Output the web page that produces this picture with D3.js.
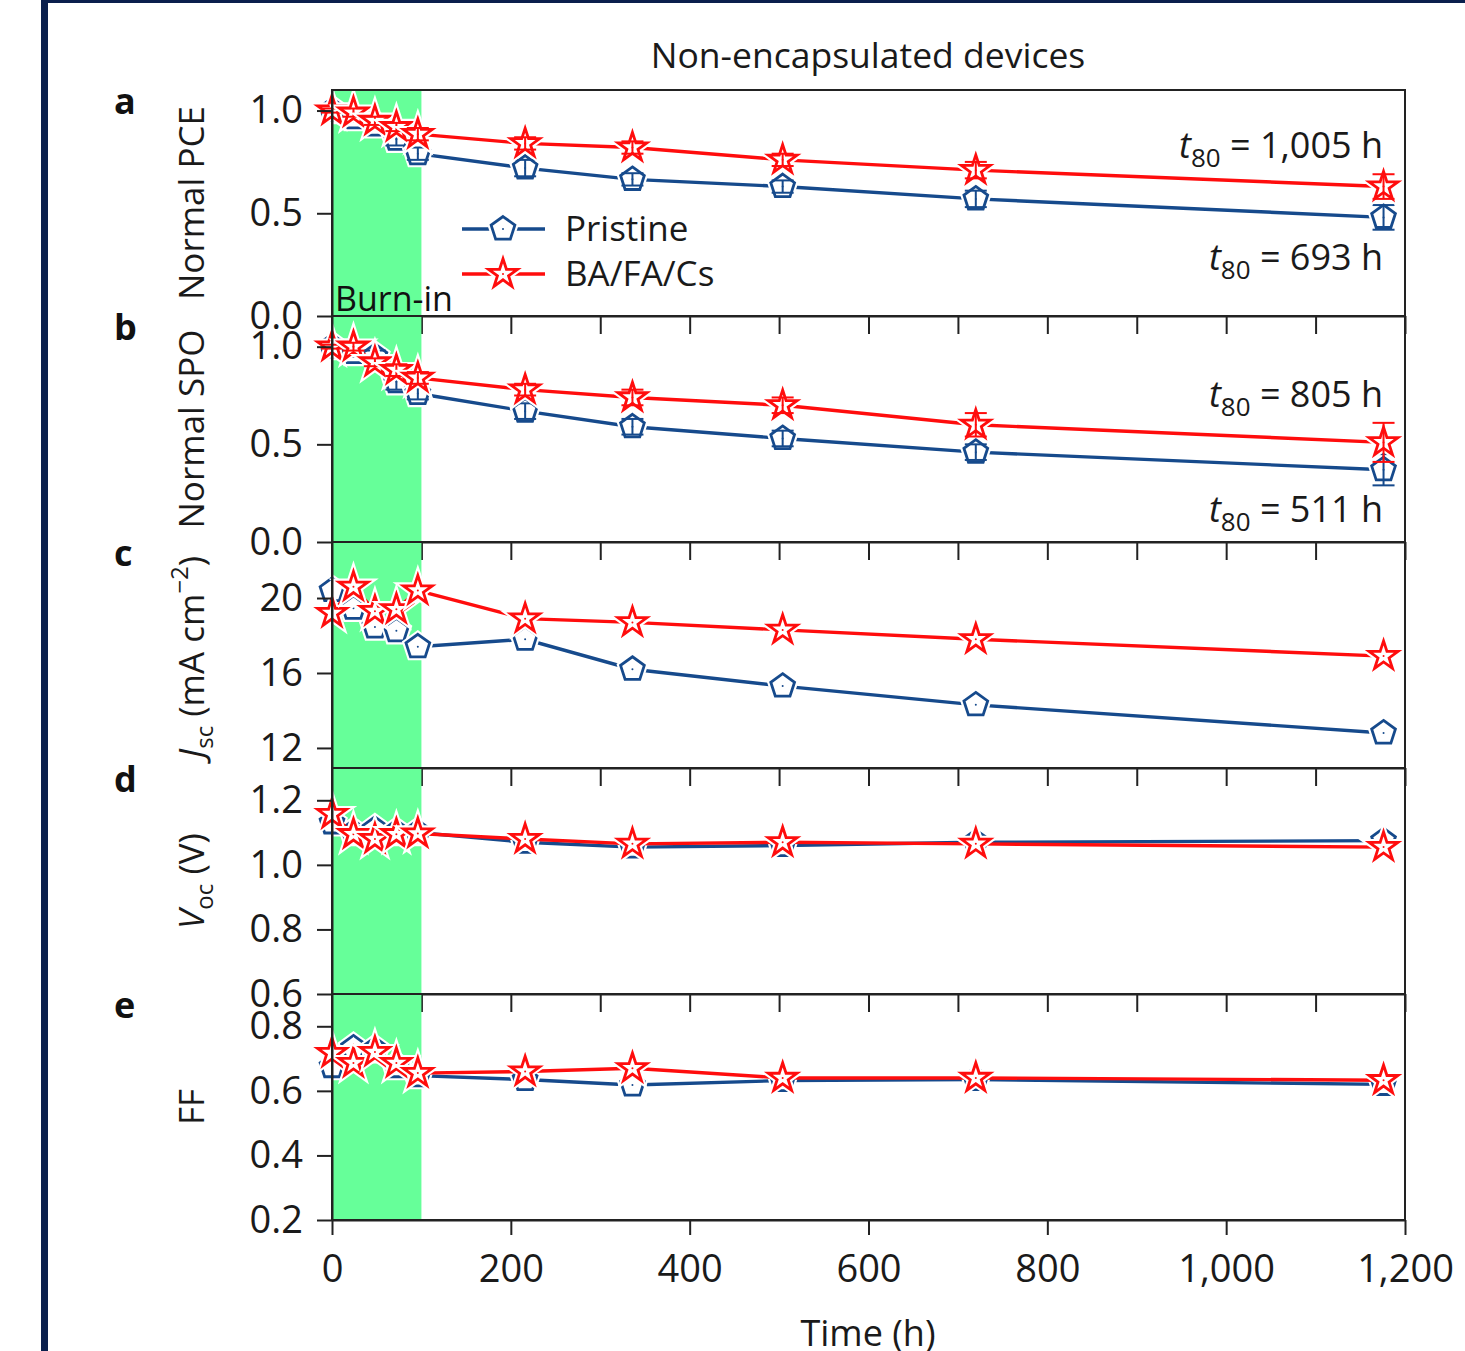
<!DOCTYPE html>
<html>
<head>
<meta charset="utf-8">
<script src="https://cdn.jsdelivr.net/npm/d3@7"></script>
<style>
  body { margin: 0; background: #fff; }
  svg { display: block; font-family: "Open Sans", "Noto Sans", sans-serif; }
  .axis path, .axis line { stroke: #222; stroke-width: 2; }
  .axis text { font-size: 38px; fill: #1a1a1a; font-family: "Open Sans", sans-serif; }
</style>
</head>
<body>
<svg id="chart"></svg>
<script>
// time points (h)
var hours = [0, 24, 48, 72, 96, 216, 336, 504, 720, 1176];

// a: normalized PCE
var pcePristine = [1.0, 0.965, 0.93, 0.86, 0.79, 0.72, 0.665, 0.63, 0.57, 0.48];
var pceBA       = [1.0, 0.99, 0.95, 0.92, 0.885, 0.84, 0.82, 0.76, 0.71, 0.63];
var pcePristineErr = [0.01, 0.02, 0.02, 0.03, 0.03, 0.04, 0.03, 0.03, 0.04, 0.06];
var pceBAErr       = [0.01, 0.02, 0.02, 0.02, 0.03, 0.03, 0.03, 0.03, 0.04, 0.06];

// b: normalized SPO
var spoPristine = [1.0, 0.97, 0.95, 0.82, 0.76, 0.67, 0.59, 0.53, 0.46, 0.37];
var spoBA       = [1.0, 1.0, 0.92, 0.88, 0.84, 0.78, 0.74, 0.70, 0.60, 0.51];
var spoPristineErr = [0.01, 0.02, 0.03, 0.04, 0.03, 0.04, 0.04, 0.04, 0.04, 0.08];
var spoBAErr       = [0.01, 0.02, 0.02, 0.03, 0.03, 0.03, 0.04, 0.04, 0.06, 0.10];

// c: Jsc (mA cm-2)
var jscPristine = [20.4, 19.45, 18.45, 18.25, 17.4, 17.8, 16.2, 15.3, 14.3, 12.8];
var jscBA       = [19.2, 20.6, 19.3, 19.4, 20.4, 18.9, 18.7, 18.3, 17.8, 16.9];

// d: Voc (V)
var vocPristine = [1.13, 1.10, 1.11, 1.10, 1.10, 1.07, 1.055, 1.06, 1.07, 1.075];
var vocBA       = [1.157, 1.095, 1.08, 1.095, 1.097, 1.08, 1.065, 1.07, 1.065, 1.055];

// e: FF
var ffPristine = [0.675, 0.733, 0.727, 0.675, 0.647, 0.635, 0.618, 0.632, 0.635, 0.62];
var ffBA       = [0.717, 0.686, 0.72, 0.686, 0.655, 0.66, 0.67, 0.64, 0.64, 0.633];

var seriesNames = ["Pristine", "BA/FA/Cs"];
var xTicksMajor = [0, 200, 400, 600, 800, 1000, 1200];
var xTicksMinor = [0, 100, 200, 300, 400, 500, 600, 700, 800, 900, 1000, 1100, 1200];
var burnIn = [0, 100];

var colBlue = "#164a8c";
var colRed = "#ff0d0d";
var colGreen = "#66ff99";

var W = 1465, H = 1351;
var svg = d3.select("#chart").attr("width", W).attr("height", H);

// frame band (navy)
svg.append("rect").attr("x", 41).attr("y", 0).attr("width", 7).attr("height", H).attr("fill", "#0a1f4d");
svg.append("rect").attr("x", 41).attr("y", 0).attr("width", W - 41).attr("height", 3).attr("fill", "#0a1f4d");

var left = 332, right = 1405;
var panelH = 226;
var tops = [90, 316, 542, 768, 994];

var x = d3.scaleLinear().domain([0, 1200]).range([left, right]);

var panels = [
  { letter: "a", domain: [0, 1.1], ticks: [0, 0.5, 1.0], fmt: ".1f", p: pcePristine, b: pceBA, pe: pcePristineErr, be: pceBAErr },
  { letter: "b", domain: [0, 1.157], ticks: [0, 0.5, 1.0], fmt: ".1f", p: spoPristine, b: spoBA, pe: spoPristineErr, be: spoBAErr },
  { letter: "c", domain: [10.93, 22.99], ticks: [12, 16, 20], fmt: "d", p: jscPristine, b: jscBA },
  { letter: "d", domain: [0.6, 1.3], ticks: [0.6, 0.8, 1.0, 1.2], fmt: ".1f", p: vocPristine, b: vocBA },
  { letter: "e", domain: [0.2, 0.9], ticks: [0.2, 0.4, 0.6, 0.8], fmt: ".1f", p: ffPristine, b: ffBA }
];

// pentagon symbol (vertex up)
var pentagon = {
  draw: function (ctx, size) {
    var r = Math.sqrt(size);
    for (var i = 0; i < 5; i++) {
      var a = -Math.PI / 2 + i * 2 * Math.PI / 5;
      if (i === 0) ctx.moveTo(r * Math.cos(a), r * Math.sin(a));
      else ctx.lineTo(r * Math.cos(a), r * Math.sin(a));
    }
    ctx.closePath();
  }
};
var pentPath = d3.symbol().type(pentagon).size(156)();
var starPath = d3.symbol().type(d3.symbolStar).size(260)();

function drawSeries(g, y, vals, errs, color, shape) {
  var pts = hours.map(function (h, i) { return { h: h, v: vals[i], e: errs ? errs[i] : 0 }; });
  var line = d3.line().x(function (d) { return x(d.h); }).y(function (d) { return y(d.v); });
  g.append("path").datum(pts).attr("d", line)
    .attr("fill", "none").attr("stroke", color).attr("stroke-width", 3.4);
  var m = g.selectAll(null).data(pts).enter().append("g")
    .attr("transform", function (d) { return "translate(" + x(d.h) + "," + y(d.v) + ")"; });
  // white halo gives the gap between line and symbol
  m.append("path").attr("d", shape).attr("fill", "#fff").attr("stroke", "#fff").attr("stroke-width", 7);
  m.filter(function (d) { return d.e > 0; }).each(function (d) {
    var s = d3.select(this);
    var dy = y(d.v - d.e) - y(d.v);
    s.append("line").attr("x1", 0).attr("x2", 0).attr("y1", -dy).attr("y2", dy)
      .attr("stroke", color).attr("stroke-width", 2);
    s.append("line").attr("x1", -11).attr("x2", 11).attr("y1", -dy).attr("y2", -dy)
      .attr("stroke", color).attr("stroke-width", 2);
    s.append("line").attr("x1", -11).attr("x2", 11).attr("y1", dy).attr("y2", dy)
      .attr("stroke", color).attr("stroke-width", 2);
  });
  m.append("path").attr("d", shape).attr("fill", "none").attr("stroke", color).attr("stroke-width", 2.8);
  m.append("circle").attr("r", 1).attr("fill", color);
}

panels.forEach(function (p, k) {
  var top = tops[k], bottom = top + panelH;
  var y = d3.scaleLinear().domain(p.domain).range([bottom, top]);
  var g = svg.append("g");

  g.append("rect").attr("x", x(burnIn[0])).attr("y", top)
    .attr("width", x(burnIn[1]) - x(burnIn[0])).attr("height", panelH).attr("fill", colGreen);

  drawSeries(g, y, p.p, p.pe, colBlue, pentPath);
  drawSeries(g, y, p.b, p.be, colRed, starPath);

  // frame
  g.append("rect").attr("x", left).attr("y", top).attr("width", right - left).attr("height", panelH)
    .attr("fill", "none").attr("stroke", "#222").attr("stroke-width", 2);

  // y axis
  g.append("g").attr("class", "axis").attr("transform", "translate(" + left + ",0)")
    .call(d3.axisLeft(y).tickValues(p.ticks).tickFormat(d3.format(p.fmt)).tickSize(15).tickPadding(14).tickSizeOuter(0));

  // x axis
  if (k < 4) {
    g.append("g").attr("class", "axis").attr("transform", "translate(0," + bottom + ")")
      .call(d3.axisBottom(x).tickValues(xTicksMinor).tickSize(18).tickSizeOuter(0).tickFormat(""));
  } else {
    g.append("g").attr("class", "axis").attr("transform", "translate(0," + bottom + ")")
      .call(d3.axisBottom(x).tickValues(xTicksMajor).tickSize(15).tickPadding(20).tickSizeOuter(0)
        .tickFormat(d3.format(",")));
  }

  // panel letter
  svg.append("text").attr("x", 114).attr("y", top + 24)
    .attr("font-size", 36).attr("font-weight", "bold").attr("fill", "#111")
    .text(p.letter);
});

// burn-in label
svg.append("text").attr("x", 335).attr("y", 311).attr("font-size", 34).attr("fill", "#111").text("Burn-in");

// title
svg.append("text").attr("x", 868).attr("y", 68).attr("text-anchor", "middle")
  .attr("font-size", 35.5).attr("fill", "#1a1a1a").text("Non-encapsulated devices");

// x title
svg.append("text").attr("x", 868).attr("y", 1346).attr("text-anchor", "middle")
  .attr("font-size", 36).attr("fill", "#1a1a1a").text("Time (h)");

// y titles
function yTitle(cy, parts) {
  var t = svg.append("text").attr("transform", "translate(204," + cy + ") rotate(-90)")
    .attr("text-anchor", "middle").attr("font-size", 35).attr("fill", "#1a1a1a");
  parts.forEach(function (s) {
    var ts = t.append("tspan").text(s.t);
    if (s.i) ts.attr("font-style", "italic");
    if (s.sub) ts.attr("font-size", 24).attr("dy", 9);
    if (s.sup) ts.attr("font-size", 24).attr("dy", -16);
    if (s.back) ts.attr("dy", s.back);
  });
}
yTitle(tops[0] + panelH / 2, [{ t: "Normal PCE" }]);
yTitle(tops[1] + panelH / 2, [{ t: "Normal SPO" }]);
yTitle(tops[2] + panelH / 2 + 2, [{ t: "J", i: true }, { t: "sc", sub: true }, { t: " (mA cm", back: -9 }, { t: "\u22122", sup: true }, { t: ")", back: 16 }]);
yTitle(tops[3] + panelH / 2, [{ t: "V", i: true }, { t: "oc", sub: true }, { t: " (V)", back: -9 }]);
yTitle(tops[4] + panelH / 2, [{ t: "FF" }]);

// t80 annotations
var t80Labels = [
  { y: 158, v: "1,005" },
  { y: 270, v: "693" },
  { y: 407, v: "805" },
  { y: 522, v: "511" }
];
t80Labels.forEach(function (d) {
  var t = svg.append("text").attr("x", 1383).attr("y", d.y).attr("text-anchor", "end")
    .attr("font-size", 36).attr("fill", "#1a1a1a");
  t.append("tspan").attr("font-style", "italic").text("t");
  t.append("tspan").attr("font-size", 26).attr("dy", 9).text("80");
  t.append("tspan").attr("dy", -9).text(" = " + d.v + " h");
});

// legend
var leg = svg.append("g");
[0, 1].forEach(function (i) {
  var ly = 229 + i * 45;
  var color = i === 0 ? colBlue : colRed;
  leg.append("line").attr("x1", 462).attr("x2", 545).attr("y1", ly).attr("y2", ly)
    .attr("stroke", color).attr("stroke-width", 3.4);
  var m = leg.append("g").attr("transform", "translate(503," + ly + ")");
  m.append("path").attr("d", i === 0 ? pentPath : starPath).attr("fill", "#fff").attr("stroke", "#fff").attr("stroke-width", 7);
  m.append("path").attr("d", i === 0 ? pentPath : starPath).attr("fill", "none").attr("stroke", color).attr("stroke-width", 2.8);
  m.append("circle").attr("r", 1).attr("fill", color);
  leg.append("text").attr("x", 565).attr("y", ly + 12).attr("font-size", 35).attr("fill", "#1a1a1a").text(seriesNames[i]);
});
</script>
</body>
</html>
